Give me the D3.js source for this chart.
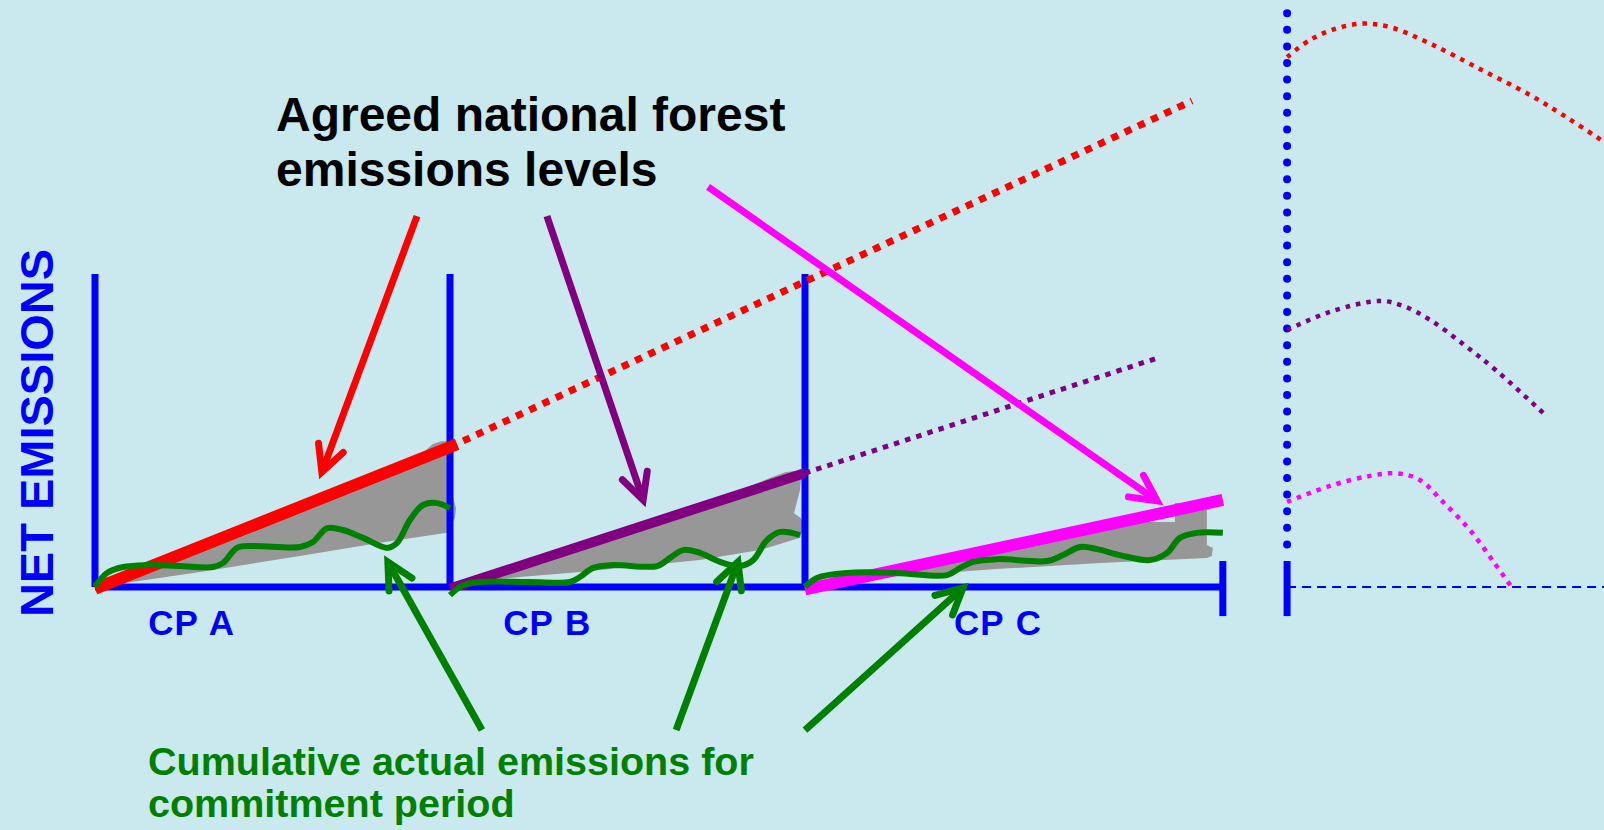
<!DOCTYPE html>
<html>
<head>
<meta charset="utf-8">
<script src="https://cdn.jsdelivr.net/npm/d3@7"></script>
<style>
  html, body { margin: 0; padding: 0; background: #c9e9ee; overflow: hidden; }
  svg { display: block; }
  text { font-family: "Liberation Sans", Arial, sans-serif; font-weight: bold; }
</style>
</head>
<body>
<div id="chart"></div>
<script>
// commitment periods (years)
const periods     = ['CP A', 'CP B', 'CP C'];
const periodStart = [0, 10, 20];
const periodEnd   = [10, 20, 31.77];

// agreed levels, [year, emissions]
const redLevel       = [[0, -0.5], [10.2, 45.6]];
const redProjection  = [[10, 44.7], [30.9, 155.3]];
const purpleLevel    = [[10, -0.5], [20, 36.4]];
const purpleProjection = [[20, 36.4], [29.94, 73.2]];
const magentaLevel   = [[20, -0.8], [31.77, 27.8]];

// uncertainty bands (outlines)
const bandA = [[0,0],[1.55,8.3],[2.96,14.4],[4.65,22.0],[6.34,29.7],[7.18,32.9],[8.03,36.1],[8.87,40.3],[9.3,43.5],
  [9.52,45.7],[9.75,46.6],[9.94,46.6],[10.03,44.4],[9.97,37.4],[10.06,29.4],[10.17,25.2],[10.14,22.0],[9.97,18.8],
  [9.92,17.3],[8.03,14.1],[5.77,9.9],[2.96,4.8],[0.7,1.0]];
const bandB = [[10.06,1.3],[11.41,5.8],[13.1,11.8],[14.79,18.2],[16.48,24.6],[17.61,28.8],[18.45,32.3],[19.01,34.8],
  [19.44,36.7],[19.72,37.1],[19.89,35.5],[19.86,31.0],[19.75,26.2],[19.69,23.6],[19.89,22.0],[19.97,19.5],[19.86,15.7],
  [18.73,11.8],[17.04,8.6],[15.35,6.7],[13.66,4.8],[11.97,3.2],[10.56,1.6]];
const bandC = [[20,-0.3],[22.68,6.1],[25.49,12.8],[28.31,18.8],[29.44,20.8],[30.42,20.8],[30.42,26.8],[31.32,26.8],
  [31.32,13.4],[31.49,12.5],[31.46,9.9],[31.32,9.3],[28.31,7.7],[25.49,5.8],[22.68,3.5],[20.7,1.0]];

// cumulative actual emissions
const actualA = [[0,0],[0.34,4.5],[0.79,6.4],[1.46,7.0],[2.39,6.7],[3.32,6.4],[3.61,7.7],[4.0,12.5],[4.45,13.1],
  [5.77,12.8],[6.14,14.4],[6.54,18.8],[6.99,18.2],[7.55,15.7],[8.23,12.5],[8.51,14.1],[8.87,21.4],[9.24,26.2],
  [9.63,26.8],[10,25.2]];
const actualB = [[10,-2.6],[10.37,0.6],[10.85,1.6],[12.25,1.6],[13.38,1.6],[13.66,3.2],[14.03,6.1],[14.59,7.0],
  [15.83,6.7],[16.2,9.3],[16.56,11.8],[16.96,11.2],[17.69,7.7],[18.17,6.7],[18.54,8.6],[18.93,15.0],[19.3,17.6],
  [19.86,16.6]];
const actualC = [[20,0],[20.34,2.9],[21.18,4.5],[22.59,4.5],[24.0,3.8],[24.37,6.1],[24.73,8.0],[25.41,8.9],
  [26.82,8.3],[27.27,10.2],[27.75,12.8],[28.23,12.1],[28.87,10.2],[29.72,8.6],[30.2,10.9],[30.56,15.7],
  [31.04,17.3],[31.77,17.3]];

// right panel: level paths
const rightStart = 33.58, rightEnd = 42.6;
const redPath = [[33.58,169.3],[34.23,174.8],[34.93,178.3],[35.69,180.0],[36.48,178.9],[37.61,173.6],
  [39.01,165.5],[40.42,157.2],[41.35,150.8],[42.51,142.2],[43.51,134.5]];
const purplePath = [[33.58,82.1],[34.79,87.9],[36.2,91.4],[36.85,89.8],[37.61,85.3],[38.54,77.6],[39.49,69.0],[40.85,55.0]];
const magentaPath = [[33.58,27.2],[34.79,32.3],[35.92,35.5],[36.68,36.3],[37.32,34.2],[37.97,27.2],[38.73,18.2],
  [39.38,8.3],[39.92,-0.3]];

// pointer arrows, [tail, tip]
const levelArrows = [
  { color: '#ff0000', tail: [9.07, 118.5], tip: [6.39, 36.7] },
  { color: '#800080', tail: [12.73, 118.5], tip: [15.44, 27.8] },
  { color: '#ff00ff', tail: [17.27, 127.8], tip: [29.92, 27.5] }
];
const actualArrows = [
  { tail: [10.9, -45.7], tip: [8.25, 8.0] },
  { tail: [16.37, -45.7], tip: [18.11, 8.0] },
  { tail: [20.0, -45.7], tip: [24.45, -0.3] }
];

const titleLines = ['Agreed national forest', 'emissions levels'];
const actualLines = ['Cumulative actual emissions for', 'commitment period'];
const yLabel = 'NET EMISSIONS';

const width = 1604, height = 830;
const blue = '#0000ff';

const svg = d3.select('#chart').append('svg')
    .attr('width', width)
    .attr('height', height);

svg.append('rect').attr('width', width).attr('height', height).attr('fill', '#c9e9ee');

// Scales
const x = d3.scaleLinear().domain([0, 10]).range([95, 450]);
const y = d3.scaleLinear().domain([0, 100]).range([587, 274]);

const line = d3.line().x(d => x(d[0])).y(d => y(d[1]));
const smooth = d3.line().x(d => x(d[0])).y(d => y(d[1])).curve(d3.curveCatmullRom);

// grey bands
svg.selectAll('path.band')
  .data([bandA, bandB, bandC])
  .join('path')
    .attr('class', 'band')
    .attr('d', d => d3.line().x(p => x(p[0])).y(p => y(p[1])).curve(d3.curveLinearClosed)(d))
    .attr('fill', '#979797');

// axes
const axes = svg.append('g').attr('stroke', blue).attr('stroke-width', 7).attr('fill', 'none');
axes.append('line')
  .attr('x1', x(0)).attr('x2', x(periodEnd[2]))
  .attr('y1', y(0)).attr('y2', y(0));
axes.selectAll('line.cp')
  .data(periodStart)
  .join('line')
    .attr('class', 'cp')
    .attr('x1', d => x(d)).attr('x2', d => x(d))
    .attr('y1', y(0)).attr('y2', y(100));
axes.append('line')
  .attr('x1', x(periodEnd[2])).attr('x2', x(periodEnd[2]))
  .attr('y1', y(8.3)).attr('y2', y(-9.3));

// right panel axes
axes.append('line')
  .attr('x1', x(rightStart)).attr('x2', x(rightStart))
  .attr('y1', y(8.3)).attr('y2', y(-9.3));
axes.append('line')
  .attr('x1', x(rightStart)).attr('x2', x(rightStart))
  .attr('y1', y(8.3) - 16.6).attr('y2', y(184))
  .attr('stroke-width', 8)
  .attr('stroke-linecap', 'round')
  .attr('stroke-dasharray', '0 16.6');
axes.append('line')
  .attr('x1', x(rightStart)).attr('x2', x(rightEnd))
  .attr('y1', y(0)).attr('y2', y(0))
  .attr('stroke-width', 2)
  .attr('stroke-dasharray', '9 6');

// agreed levels
const levels = [
  { d: redLevel, color: '#ff0000', w: 12 },
  { d: redProjection, color: '#ff0000', w: 7, dash: '7.3 7.3' },
  { d: purpleLevel, color: '#800080', w: 10 },
  { d: purpleProjection, color: '#800080', w: 5, dash: '5.5 6.2' },
  { d: magentaLevel, color: '#ff00ff', w: 12 }
];
svg.selectAll('path.level')
  .data(levels)
  .join('path')
    .attr('class', 'level')
    .attr('d', d => line(d.d))
    .attr('fill', 'none')
    .attr('stroke', d => d.color)
    .attr('stroke-width', d => d.w)
    .attr('stroke-dasharray', d => d.dash || null);

// right panel paths
svg.selectAll('path.future')
  .data([
    { d: redPath, color: '#ff0000' },
    { d: purplePath, color: '#800080' },
    { d: magentaPath, color: '#ff00ff' }
  ])
  .join('path')
    .attr('class', 'future')
    .attr('d', d => smooth(d.d))
    .attr('fill', 'none')
    .attr('stroke', d => d.color)
    .attr('stroke-width', 4.5)
    .attr('stroke-dasharray', '4.5 6');

// actual emissions
svg.selectAll('path.actual')
  .data([actualA, actualB, actualC])
  .join('path')
    .attr('class', 'actual')
    .attr('d', smooth)
    .attr('fill', 'none')
    .attr('stroke', '#008000')
    .attr('stroke-width', 6);

// arrows
function drawArrow(g, a, color) {
  const x0 = x(a.tail[0]), y0 = y(a.tail[1]);
  const x1 = x(a.tip[0]), y1 = y(a.tip[1]);
  const ang = Math.atan2(y0 - y1, x0 - x1);
  const L = 29, s = 0.47;
  g.append('line')
    .attr('x1', x0).attr('y1', y0).attr('x2', x1).attr('y2', y1)
    .attr('stroke', color).attr('stroke-width', 7);
  g.append('path')
    .attr('d', `M${x1 + L * Math.cos(ang - s)},${y1 + L * Math.sin(ang - s)}L${x1},${y1}L${x1 + L * Math.cos(ang + s)},${y1 + L * Math.sin(ang + s)}`)
    .attr('fill', 'none')
    .attr('stroke', color).attr('stroke-width', 7)
    .attr('stroke-linecap', 'round');
}
const arrows = svg.append('g');
levelArrows.forEach(a => drawArrow(arrows, a, a.color));
actualArrows.forEach(a => drawArrow(arrows, a, '#008000'));

// Labels
const cpLabelX = [1.5, 11.5, 24.2];
svg.selectAll('text.cp')
  .data(periods)
  .join('text')
    .attr('class', 'cp')
    .attr('x', (d, i) => x(cpLabelX[i]))
    .attr('y', 635)
    .attr('fill', blue)
    .attr('font-size', 35)
    .attr('letter-spacing', 1)
    .attr('word-spacing', 1)
    .text(d => d);

svg.append('text')
  .attr('transform', `translate(53,433) rotate(-90)`)
  .attr('text-anchor', 'middle')
  .attr('fill', blue)
  .attr('font-size', 47)
  .text(yLabel);

svg.selectAll('text.title')
  .data(titleLines)
  .join('text')
    .attr('class', 'title')
    .attr('x', 276)
    .attr('y', (d, i) => 131 + i * 55)
    .attr('fill', '#000')
    .attr('font-size', 48)
    .text(d => d);

svg.selectAll('text.note')
  .data(actualLines)
  .join('text')
    .attr('class', 'note')
    .attr('x', 148)
    .attr('y', (d, i) => 775 + i * 42)
    .attr('fill', '#008000')
    .attr('font-size', 39.5)
    .text(d => d);
</script>
</body>
</html>
